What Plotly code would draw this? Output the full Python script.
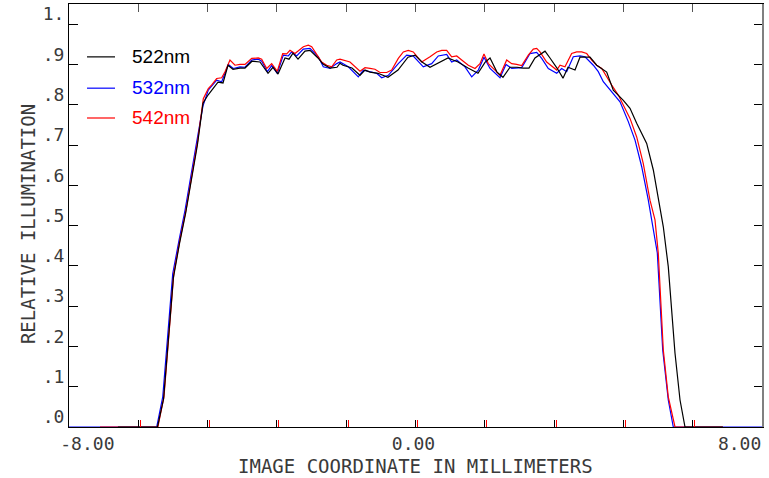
import numpy as np
import plotly.graph_objects as go

# Relative illumination across the image, one trace per wavelength
x_522 = [-7.30, -6.33, -6.18, -6.01, -5.94, -5.79, -5.64, -5.35, -5.213, -5.090, -4.968, -4.845,
         -4.722, -4.600, -4.477, -4.305, -4.183, -4.011, -3.815, -3.618, -3.496, -3.373, -3.201,
         -3.103, -3.005, -2.882, -2.711, -2.588, -2.392, -2.269, -2.097, -1.926, -1.852, -1.779,
         -1.558, -1.362, -1.239, -1.116, -0.920, -0.675, -0.429, -0.184, -0.012, 0.159, 0.356,
         0.552, 0.797, 0.920, 1.043, 1.288, 1.533, 1.705, 1.828, 1.999, 2.146, 2.318, 2.490,
         2.637, 2.784, 2.931, 3.177, 3.299, 3.471, 3.618, 3.741, 3.913, 4.035, 4.281, 4.445,
         4.690, 4.852, 5.098, 5.262, 5.426, 5.671, 5.834, 5.956, 6.079, 6.201, 6.285, 6.366,
         6.489, 6.611, 7.54]
y_522 = [0, 0, 0.07, 0.29, 0.37, 0.455, 0.53, 0.70, 0.804, 0.824, 0.841, 0.856,
         0.854, 0.898, 0.888, 0.891, 0.891, 0.908, 0.906, 0.878, 0.893, 0.876, 0.916,
         0.913, 0.928, 0.913, 0.933, 0.935, 0.916, 0.901, 0.891, 0.893, 0.903, 0.898,
         0.891, 0.873, 0.886, 0.881, 0.878, 0.868, 0.886, 0.918, 0.923, 0.906, 0.893,
         0.903, 0.916, 0.911, 0.906, 0.891, 0.878, 0.905, 0.916, 0.881, 0.868, 0.893, 0.893,
         0.891, 0.891, 0.916, 0.933, 0.916, 0.891, 0.866, 0.893, 0.886, 0.918, 0.918, 0.898,
         0.881, 0.836, 0.811, 0.791, 0.754, 0.704, 0.638, 0.563, 0.497, 0.398, 0.290, 0.183,
         0.067, 0, 0]

x_532 = [-8.5, -6.349, -6.20, -6.02, -5.956, -5.80, -5.654, -5.36, -5.213, -5.085, -4.877, -4.754,
         -4.59, -4.469, -4.305, -4.183, -4.018, -3.856, -3.773, -3.635, -3.527, -3.390, -3.243,
         -3.120, -3.037, -2.915, -2.752, -2.588, -2.384, -2.262, -2.097, -1.933, -1.852, -1.648,
         -1.403, -1.281, -1.116, -0.952, -0.829, -0.667, -0.422, -0.216, -0.054, 0.191, 0.397,
         0.559, 0.765, 0.888, 1.011, 1.214, 1.379, 1.541, 1.680, 1.828, 2.073, 2.220, 2.360,
         2.605, 2.809, 2.973, 3.096, 3.258, 3.464, 3.586, 3.709, 3.871, 4.035, 4.158, 4.362,
         4.484, 4.607, 4.771, 5.017, 5.220, 5.385, 5.549, 5.711, 5.932, 5.998, 6.064, 6.201,
         6.324, 8.5]
y_532 = [0, 0, 0.075, 0.30, 0.38, 0.464, 0.538, 0.712, 0.797, 0.836, 0.861, 0.857,
         0.900, 0.890, 0.894, 0.893, 0.911, 0.913, 0.908, 0.882, 0.897, 0.878, 0.923,
         0.921, 0.931, 0.921, 0.938, 0.940, 0.919, 0.894, 0.890, 0.902, 0.906, 0.894,
         0.869, 0.886, 0.882, 0.878, 0.867, 0.873, 0.902, 0.923, 0.921, 0.894, 0.902,
         0.921, 0.925, 0.906, 0.911, 0.894, 0.869, 0.886, 0.918, 0.890, 0.867, 0.900, 0.890,
         0.892, 0.927, 0.930, 0.915, 0.890, 0.878, 0.890, 0.882, 0.919, 0.921, 0.919, 0.898,
         0.882, 0.857, 0.836, 0.807, 0.758, 0.712, 0.646, 0.563, 0.432, 0.315, 0.191, 0.067,
         0, 0]

x_542 = [-7.74, -6.32, -6.17, -6.0, -5.93, -5.78, -5.63, -5.34, -5.205, -5.083, -4.999, -4.877,
         -4.754, -4.673, -4.551, -4.428, -4.305, -4.183, -4.018, -3.856, -3.773, -3.650, -3.528,
         -3.390, -3.258, -3.160, -3.079, -2.956, -2.752, -2.630, -2.546, -2.301, -2.178, -2.056,
         -1.933, -1.852, -1.607, -1.362, -1.239, -1.116, -0.994, -0.871, -0.707, -0.584, -0.422,
         -0.299, -0.177, -0.054, 0.152, 0.356, 0.520, 0.643, 0.765, 0.888, 1.011, 1.133, 1.295,
         1.460, 1.582, 1.680, 1.786, 1.950, 2.073, 2.237, 2.360, 2.482, 2.605, 2.767, 2.890,
         2.973, 3.054, 3.218, 3.464, 3.545, 3.667, 3.831, 3.954, 4.077, 4.200, 4.322, 4.445,
         4.568, 4.690, 4.813, 4.975, 5.058, 5.262, 5.426, 5.588, 5.752, 5.875, 5.956, 5.998,
         6.079, 6.201, 6.366, 7.54]
y_542 = [0, 0, 0.075, 0.30, 0.38, 0.464, 0.538, 0.712, 0.815, 0.840, 0.849, 0.865,
         0.867, 0.882, 0.911, 0.898, 0.900, 0.900, 0.915, 0.916, 0.913, 0.890, 0.902,
         0.883, 0.927, 0.926, 0.935, 0.927, 0.944, 0.948, 0.944, 0.906, 0.898, 0.894,
         0.911, 0.913, 0.906, 0.883, 0.892, 0.890, 0.888, 0.880, 0.880, 0.886, 0.915,
         0.931, 0.935, 0.931, 0.906, 0.919, 0.931, 0.935, 0.935, 0.919, 0.921, 0.911, 0.898,
         0.890, 0.902, 0.926, 0.902, 0.886, 0.873, 0.911, 0.902, 0.900, 0.897, 0.923, 0.938,
         0.940, 0.931, 0.906, 0.886, 0.898, 0.894, 0.927, 0.931, 0.931, 0.927, 0.911, 0.898,
         0.890, 0.869, 0.849, 0.824, 0.807, 0.766, 0.720, 0.654, 0.563, 0.514, 0.431, 0.340,
         0.191, 0.075, 0, 0]

series_names = ["522nm", "532nm", "542nm"]
series_colors = ["#000000", "#0000ff", "#ff0000"]

x_range = [-8.5, 8.5]
y_range = [0, 1.05]
x_label_vals = [-8, 0, 8]
x_label_text = ["-8.00", "0.00", "8.00"]
y_tick_vals = [0, 0.1, 0.2, 0.3, 0.4, 0.5, 0.6, 0.7, 0.8, 0.9, 1.0]
y_tick_text = [".0", ".1", ".2", ".3", ".4", ".5", ".6", ".7", ".8", ".9", "1."]

# frame divisions: ten equal steps along the horizontal axis
x_divisions = list(np.linspace(x_range[0], x_range[1], 11)[1:-1])

MONO = "DejaVu Sans Mono"
TXT = "#3a3a3a"

fig = go.Figure()
data = {"522nm": (x_522, y_522), "532nm": (x_532, y_532), "542nm": (x_542, y_542)}
# draw blue, then red, then black on top
for name in ["532nm", "542nm", "522nm"]:
    xs, ys = data[name]
    col = series_colors[series_names.index(name)]
    fig.add_trace(go.Scatter(x=xs, y=ys, mode="lines", name=name,
                             line=dict(color=col, width=1.2), showlegend=False,
                             xaxis="x", yaxis="y"))

common = dict(showgrid=False, zeroline=False)
fig.update_layout(
    width=769, height=478,
    margin=dict(l=69, r=7, t=4, b=51),
    paper_bgcolor="white", plot_bgcolor="white",
    xaxis=dict(range=x_range, tickvals=x_label_vals, ticktext=x_label_text, ticks="",
               showline=True, linecolor="black", linewidth=1,
               tickfont=dict(family=MONO, size=18, color=TXT), ticklabelshift=-2,
               **common),
    xaxis2=dict(range=x_range, overlaying="x", anchor="y", side="bottom",
                tickvals=x_divisions, ticks="inside", ticklen=7, tickcolor="black",
                showticklabels=False, showline=False, **common),
    xaxis3=dict(range=[x_range[0] - 0.05, x_range[1] - 0.05], overlaying="x", anchor="y",
                side="bottom", tickvals=x_divisions, ticks="inside", ticklen=7,
                tickcolor="#ff0000", tickwidth=1, showticklabels=False, showline=False,
                **common),
    xaxis4=dict(range=x_range, overlaying="x", anchor="y", side="top",
                tickvals=x_divisions, ticks="inside", ticklen=8, tickcolor="#555555",
                showticklabels=False, showline=True, linecolor="black", linewidth=1,
                **common),
    yaxis=dict(range=y_range, tickvals=y_tick_vals, ticktext=y_tick_text,
               ticks="inside", ticklen=9, tickcolor="black",
               showline=True, linecolor="black", linewidth=1,
               tickfont=dict(family=MONO, size=18, color=TXT), ticklabelshift=-10,
               **common),
    yaxis2=dict(range=y_range, overlaying="y", side="right", anchor="x",
                tickvals=y_tick_vals, ticks="inside", ticklen=8, tickcolor="black",
                showticklabels=False, showline=True, linecolor="#808080", linewidth=2,
                **common),
)

# keep the overlay axes visible with an invisible trace each
for xa, ya in [("x2", "y"), ("x3", "y"), ("x4", "y"), ("x", "y2")]:
    fig.add_trace(go.Scatter(x=[None], y=[None], xaxis=xa, yaxis=ya, showlegend=False,
                             hoverinfo="skip"))

# axis titles
fig.add_annotation(text="IMAGE COORDINATE IN MILLIMETERS", xref="paper", yref="paper",
                   x=0.5007, y=-0.092, xanchor="center", yanchor="middle", showarrow=False,
                   font=dict(family=MONO, size=19, color=TXT))
fig.add_annotation(text="RELATIVE ILLUMINATION", xref="paper", yref="paper",
                   x=-0.059, y=0.48, xanchor="center", yanchor="middle", showarrow=False,
                   textangle=-90, font=dict(family=MONO, size=19, color=TXT))

# key: short line sample plus coloured label for each wavelength
key_y = [0.875, 0.801, 0.7305]
for name, col, ky in zip(series_names, series_colors, key_y):
    fig.add_shape(type="line", xref="paper", yref="paper", x0=0.026, x1=0.0664,
                  y0=ky, y1=ky, line=dict(color=col, width=1.2))
    fig.add_annotation(text=name, xref="paper", yref="paper", x=0.0885, y=ky + 0.002,
                       xanchor="left", yanchor="middle", showarrow=False,
                       font=dict(family="Liberation Sans", size=19, color=col))

fig.write_html("out.html")
